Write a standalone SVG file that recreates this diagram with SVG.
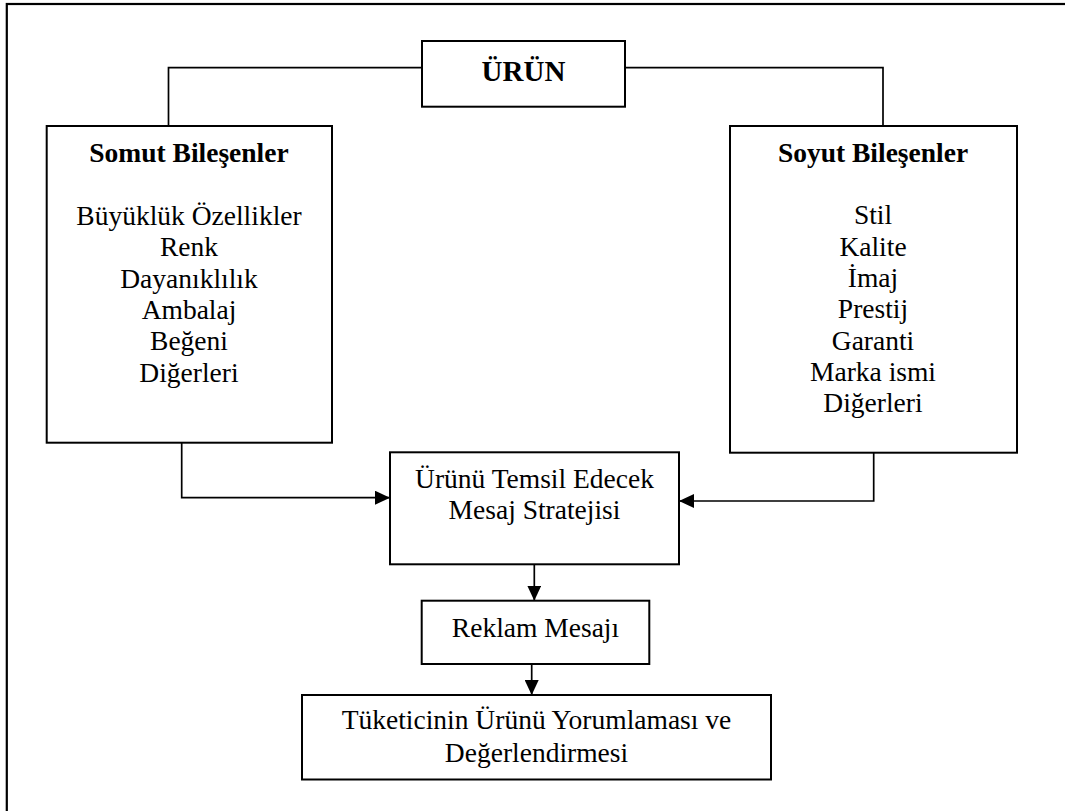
<svg xmlns="http://www.w3.org/2000/svg" width="1065" height="811" viewBox="0 0 1065 811">
  <style>
    .box { fill: #ffffff; stroke: #000000; stroke-width: 2; }
    .frame { fill: none; stroke: #000000; stroke-width: 2.2; }
    .wire { fill: none; stroke: #000000; stroke-width: 1.7; }
    text { font-family: "Liberation Serif", "Times New Roman", serif; font-size: 27.5px; fill: #000000; text-anchor: middle; }
    .bold { font-weight: bold; }
  </style>
  <defs>
    <marker id="arrow" viewBox="0 0 15 14" refX="15" refY="7" markerWidth="15" markerHeight="14" markerUnits="userSpaceOnUse" orient="auto">
      <path d="M0,0 L15,7 L0,14 Z" fill="#000000"/>
    </marker>
  </defs>

  <rect width="1065" height="811" fill="#ffffff"/>

  <!-- page frame (right and bottom edges fall outside the view) -->
  <rect class="frame" x="6.8" y="4" width="1080" height="830"/>

  <!-- connectors -->
  <g id="connectors">
    <polyline class="wire" points="422,67.7 168.5,67.7 168.5,126"/>
    <polyline class="wire" points="625,67.7 883,67.7 883,126"/>
    <polyline class="wire" points="181.7,442.7 181.7,497.7 390,497.7" marker-end="url(#arrow)"/>
    <polyline class="wire" points="873.7,452.7 873.7,501 679,501" marker-end="url(#arrow)"/>
    <line class="wire" x1="534.3" y1="564.3" x2="534.3" y2="600.7" marker-end="url(#arrow)"/>
    <line class="wire" x1="531.7" y1="664" x2="531.7" y2="695" marker-end="url(#arrow)"/>
  </g>

  <g id="urun">
    <rect class="box" x="422" y="41" width="203" height="65.7"/>
    <text class="bold" x="523.5" y="80.7" style="font-size:29px">ÜRÜN</text>
  </g>

  <g id="somut">
    <rect class="box" x="46.7" y="126" width="285.3" height="316.7"/>
    <text class="bold" x="189" y="162.3">Somut Bileşenler</text>
    <text x="189" y="225">Büyüklük Özellikler</text>
    <text x="189" y="256.3">Renk</text>
    <text x="189" y="287.6">Dayanıklılık</text>
    <text x="189" y="318.9">Ambalaj</text>
    <text x="189" y="350.2">Beğeni</text>
    <text x="189" y="381.5">Diğerleri</text>
  </g>

  <g id="soyut">
    <rect class="box" x="730" y="126" width="287" height="326.7"/>
    <text class="bold" x="873" y="161.7">Soyut Bileşenler</text>
    <text x="873" y="224.3">Stil</text>
    <text x="873" y="255.6">Kalite</text>
    <text x="873" y="286.9">İmaj</text>
    <text x="873" y="318.2">Prestij</text>
    <text x="873" y="349.5">Garanti</text>
    <text x="873" y="380.8">Marka ismi</text>
    <text x="873" y="412.1">Diğerleri</text>
  </g>

  <g id="strateji">
    <rect class="box" x="390" y="452.3" width="289" height="112"/>
    <text x="534.5" y="487.7">Ürünü Temsil Edecek</text>
    <text x="534.5" y="519">Mesaj Stratejisi</text>
  </g>

  <g id="reklam">
    <rect class="box" x="421.7" y="600.7" width="227.6" height="63.3"/>
    <text x="535.5" y="636.7">Reklam Mesajı</text>
  </g>

  <g id="tuketici">
    <rect class="box" x="302" y="695" width="469" height="84.5"/>
    <text x="536.5" y="729">Tüketicinin Ürünü Yorumlaması ve</text>
    <text x="536.5" y="761.5">Değerlendirmesi</text>
  </g>
</svg>
